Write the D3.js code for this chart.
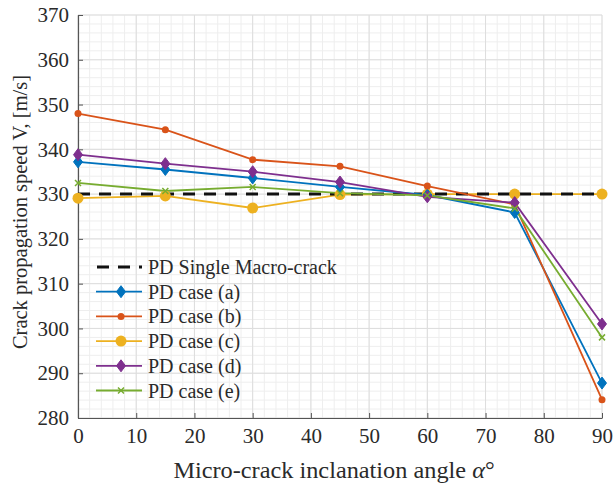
<!DOCTYPE html>
<html><head><meta charset="utf-8">
<script src="https://cdn.jsdelivr.net/npm/d3@7"></script>
<style>body{margin:0;background:#fff}svg{display:block}text{font-family:"Liberation Serif","Times New Roman",serif;fill:#2a2a2a}</style>
</head><body><svg id="c" width="613" height="486"></svg>
<script>
const angles = [0, 15, 30, 45, 60, 75, 90];
const singleMacro = [330, 330, 330, 330, 330, 330, 330];
const caseA = [337.2, 335.5, 333.6, 331.6, 329.8, 325.9, 287.8];
const caseB = [348.0, 344.4, 337.7, 336.2, 331.8, 327.7, 284.1];
const caseC = [329.1, 329.6, 326.9, 329.9, 330.0, 330.0, 330.0];
const caseD = [338.8, 336.8, 335.0, 332.7, 329.4, 328.1, 301.0];
const caseE = [332.5, 330.7, 331.6, 330.2, 329.7, 326.8, 298.0];
const xTicks = [0, 10, 20, 30, 40, 50, 60, 70, 80, 90];
const yTicks = [280, 290, 300, 310, 320, 330, 340, 350, 360, 370];
const seriesNames = ["PD Single Macro-crack", "PD case (a)", "PD case (b)", "PD case (c)", "PD case (d)", "PD case (e)"];

const series = [
  {name: seriesNames[1], vals: caseA, color: "#0072BD", marker: "diamond"},
  {name: seriesNames[2], vals: caseB, color: "#D95319", marker: "dot"},
  {name: seriesNames[3], vals: caseC, color: "#EDB120", marker: "circle"},
  {name: seriesNames[4], vals: caseD, color: "#7E2F8E", marker: "diamond"},
  {name: seriesNames[5], vals: caseE, color: "#77AC30", marker: "x"}
];

const svg = d3.select("#c");
const L = 78, R = 602, T = 15, B = 418;
const x = d3.scaleLinear().domain([0, 90]).range([L, R]);
const y = d3.scaleLinear().domain([280, 370]).range([B, T]);

// grid
const g = svg.append("g");
g.selectAll(".mx").data(d3.range(0, 91, 2)).join("line")
  .attr("x1", d => x(d)).attr("x2", d => x(d)).attr("y1", T).attr("y2", B)
  .attr("stroke", "#eeeeee").attr("stroke-width", 1);
g.selectAll(".my").data(d3.range(280, 371, 2)).join("line")
  .attr("y1", d => y(d)).attr("y2", d => y(d)).attr("x1", L).attr("x2", R)
  .attr("stroke", "#eeeeee").attr("stroke-width", 1);
g.selectAll(".Mx").data(xTicks).join("line")
  .attr("x1", d => x(d)).attr("x2", d => x(d)).attr("y1", T).attr("y2", B)
  .attr("stroke", "#dddddd").attr("stroke-width", 1);
g.selectAll(".My").data(yTicks).join("line")
  .attr("y1", d => y(d)).attr("y2", d => y(d)).attr("x1", L).attr("x2", R)
  .attr("stroke", "#dddddd").attr("stroke-width", 1);

// axes
const xa = svg.append("g").attr("transform", `translate(0,${B})`)
  .call(d3.axisBottom(x).tickValues(xTicks).tickSizeInner(-5).tickSizeOuter(0).tickPadding(10));
const ya = svg.append("g").attr("transform", `translate(${L},0)`)
  .call(d3.axisLeft(y).tickValues(yTicks).tickSizeInner(-5).tickSizeOuter(0).tickPadding(9));
[xa, ya].forEach(a => {
  a.select(".domain").attr("stroke", "#555").attr("stroke-width", 1.2);
  a.selectAll(".tick line").attr("stroke", "#555");
  a.selectAll("text").attr("font-family", "Liberation Serif").attr("font-size", 21).attr("fill", "#2a2a2a");
});

const line = d3.line().x((d, i) => x(angles[i])).y(d => y(d));
const lines = svg.append("g");

function drawMarker(sel, m, color, cx, cy) {
  if (m === "diamond") {
    sel.append("path").attr("d", `M${cx},${cy-6}L${cx+4.5},${cy}L${cx},${cy+6}L${cx-4.5},${cy}Z`)
      .attr("fill", color).attr("stroke", color).attr("stroke-width", 1);
  } else if (m === "dot") {
    sel.append("circle").attr("cx", cx).attr("cy", cy).attr("r", 3.5).attr("fill", color);
  } else if (m === "circle") {
    sel.append("circle").attr("cx", cx).attr("cy", cy).attr("r", 5.5).attr("fill", color);
  } else if (m === "x") {
    sel.append("path").attr("d", `M${cx-3},${cy-3}L${cx+3},${cy+3}M${cx-3},${cy+3}L${cx+3},${cy-3}`)
      .attr("stroke", color).attr("stroke-width", 1.5).attr("fill", "none");
  }
}

const order = [2, -1, 0, 1, 3, 4];
order.forEach(k => {
  if (k === -1) {
    lines.append("path").datum(singleMacro).attr("d", line)
      .attr("fill", "none").attr("stroke", "#111").attr("stroke-width", 3)
      .attr("stroke-dasharray", "12,9");
    return;
  }
  const s = series[k];
  lines.append("path").datum(s.vals).attr("d", line)
    .attr("fill", "none").attr("stroke", s.color).attr("stroke-width", 1.8);
});
order.forEach(k => {
  if (k === -1) return;
  const s = series[k];
  const mg = lines.append("g");
  s.vals.forEach((v, i) => drawMarker(mg, s.marker, s.color, x(angles[i]), y(v)));
});

// legend
const lg = svg.append("g");
const ly0 = 267, ldy = 24.7, lx1 = 96, lx2 = 142, ltx = 148;
seriesNames.forEach((n, i) => {
  const yy = ly0 + i * ldy;
  if (i === 0) {
    lg.append("line").attr("x1", lx1).attr("x2", lx2).attr("y1", yy).attr("y2", yy)
      .attr("stroke", "#111").attr("stroke-width", 3).attr("stroke-dasharray", "12,9").attr("stroke-dashoffset", -1);
  } else {
    const s = series[i - 1];
    lg.append("line").attr("x1", lx1).attr("x2", lx2).attr("y1", yy).attr("y2", yy)
      .attr("stroke", s.color).attr("stroke-width", 1.8);
    drawMarker(lg, s.marker, s.color, (lx1 + lx2) / 2 + 2, yy);
  }
  lg.append("text").attr("x", ltx).attr("y", yy).attr("dy", "0.35em")
    .attr("font-size", 20).text(n);
});

// axis labels
svg.append("text").attr("transform", `translate(27,212) rotate(-90)`)
  .attr("text-anchor", "middle").attr("font-size", 20.5).text("Crack propagation speed V, [m/s]");
const xl = svg.append("text").attr("transform", `translate(${x(45) - 6},478) scale(1.08,1)`)
  .attr("text-anchor", "middle").attr("font-size", 22.5);
xl.append("tspan").text("Micro-crack inclanation angle ");
xl.append("tspan").attr("font-style", "italic").text("α");
xl.append("tspan").text("°");
</script></body></html>
